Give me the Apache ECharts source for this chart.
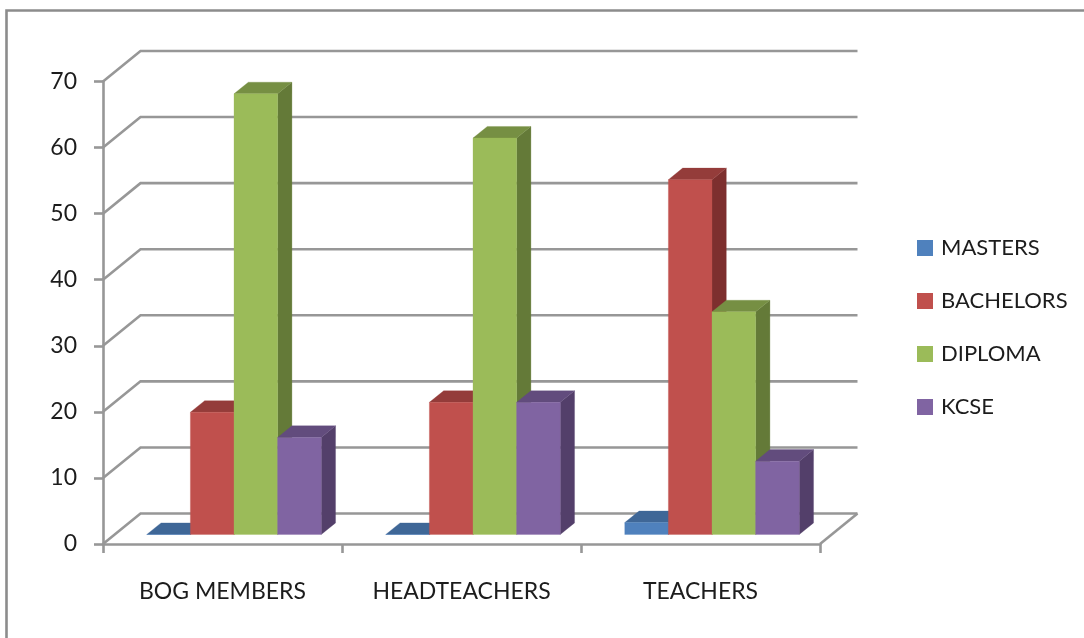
<!DOCTYPE html>
<html>
<head>
<meta charset="utf-8">
<style>html,body{margin:0;padding:0;background:#fff}#c{width:1084px;height:638px;filter:blur(0.45px)}</style>
<script src="https://cdn.jsdelivr.net/npm/echarts@6/dist/echarts.min.js"></script>
</head>
<body>
<div id="c"></div>
<script>
const categories = ['BOG MEMBERS', 'HEADTEACHERS', 'TEACHERS'];
const yTicks = [0, 10, 20, 30, 40, 50, 60, 70];
const masters = [0, 0, 1.8];
const bachelors = [18.5, 20, 53.7];
const diploma = [66.7, 60, 33.7];
const kcse = [14.7, 20, 11.1];

const seriesDefs = [
  { name: 'MASTERS', values: masters, front: '#4F81BD', top: '#3F6797', side: '#2F4D71' },
  { name: 'BACHELORS', values: bachelors, front: '#C0504D', top: '#943C3A', side: '#7D2F2E' },
  { name: 'DIPLOMA', values: diploma, front: '#9BBB59', top: '#768F43', side: '#647A38' },
  { name: 'KCSE', values: kcse, front: '#8064A2', top: '#624C7D', side: '#533F6A' }
];

const WALL_DX = 37.5, WALL_DY = 30.5;     // depth of the 3D box
const BAR_SHIFT_X = 11.5, BAR_SHIFT_Y = 9.5; // bars stand inside the floor
const BAR_DX = 14.3, BAR_DY = 11.6;       // depth of a bar
const BAR_SHARE = 0.1825;                 // bar width as a share of a category
const LINE = '#979797';

function renderBar(seriesIndex) {
  return function (params, api) {
    const cat = api.value(0), val = api.value(1);
    const band = api.size([1, 0])[0];
    const w = band * BAR_SHARE;
    const c = api.coord([cat, 0]);
    const t = api.coord([cat, val]);
    const x0 = c[0] + BAR_SHIFT_X + (seriesIndex - 2) * w;
    const x1 = x0 + w;
    const y0 = c[1] - BAR_SHIFT_Y;
    const y1 = t[1] - BAR_SHIFT_Y;
    const d = seriesDefs[seriesIndex];
    const poly = (pts, fill) => ({ type: 'polygon', shape: { points: pts }, style: { fill: fill, stroke: fill, lineWidth: 0.3 } });
    return {
      type: 'group',
      children: [
        poly([[x1, y0], [x1 + BAR_DX, y0 - BAR_DY], [x1 + BAR_DX, y1 - BAR_DY], [x1, y1]], d.side),
        poly([[x0, y1], [x0 + BAR_DX, y1 - BAR_DY], [x1 + BAR_DX, y1 - BAR_DY], [x1, y1]], d.top),
        poly([[x0, y0], [x1, y0], [x1, y1], [x0, y1]], d.front)
      ]
    };
  };
}

function renderWall(params, api) {
  const val = api.value(0);
  const pt = api.coord([0, val]);
  const size = api.size([1, 0])[0];
  const left = pt[0] - size / 2;
  const right = left + size * categories.length;
  const style = { stroke: LINE, lineWidth: 2.6, fill: 'none' };
  const kids = [{ type: 'polyline', shape: { points: [[left, pt[1]], [left + WALL_DX, pt[1] - WALL_DY], [right + WALL_DX, pt[1] - WALL_DY]] }, style }];
  if (val === 0) kids.push({ type: 'line', shape: { x1: right, y1: pt[1], x2: right + WALL_DX, y2: pt[1] - WALL_DY }, style });
  return { type: 'group', children: kids };
}

const FONT = 'Lato, "Open Sans", sans-serif';
const TEXT = '#1c1c1c';
const chart = echarts.init(document.getElementById('c'), null, { renderer: 'canvas' });
chart.setOption({
  animation: false,
  backgroundColor: '#fff',
  graphic: [{
    type: 'polyline',
    shape: { points: [[6.5, 638], [6.5, 10.5], [1084, 10.5]] },
    style: { stroke: '#8c8c8c', lineWidth: 2.6, fill: 'none' },
    silent: true
  }],
  grid: { left: 103, top: 81.5, width: 717, height: 462.5 },
  legend: {
    orient: 'vertical',
    left: 912,
    top: 232,
    itemWidth: 16,
    itemHeight: 16,
    itemGap: 31,
    icon: 'rect',
    data: seriesDefs.map(d => d.name),
    textStyle: { fontFamily: FONT, fontSize: 22, color: TEXT, padding: [0, 0, 0, 3] }
  },
  xAxis: {
    type: 'category',
    data: categories,
    axisLine: { lineStyle: { color: LINE, width: 2.6 } },
    axisTick: { show: true, alignWithLabel: false, length: 9, lineStyle: { color: LINE, width: 2.6 } },
    axisLabel: { interval: 0, fontFamily: FONT, fontSize: 23, color: TEXT, margin: 36 }
  },
  yAxis: {
    type: 'value',
    min: 0,
    max: 70,
    interval: 10,
    splitLine: { show: false },
    axisLine: { show: true, lineStyle: { color: LINE, width: 2.6 } },
    axisTick: { show: true, length: 9, lineStyle: { color: LINE, width: 2.6 } },
    axisLabel: { fontFamily: FONT, fontSize: 23, color: TEXT, margin: 26 }
  },
  series: [{
    type: 'custom',
    name: 'walls',
    silent: true,
    clip: false,
    z: 1,
    encode: { x: 1, y: 0 },
    data: yTicks.map(v => [v, 0]),
    renderItem: renderWall
  }].concat(seriesDefs.map((d, i) => ({
    type: 'custom',
    name: d.name,
    clip: false,
    z: 2 + i,
    itemStyle: { color: d.front },
    encode: { x: 0, y: 1 },
    data: d.values.map((v, k) => [k, v]),
    renderItem: renderBar(i)
  })))
});
</script>
</body>
</html>
